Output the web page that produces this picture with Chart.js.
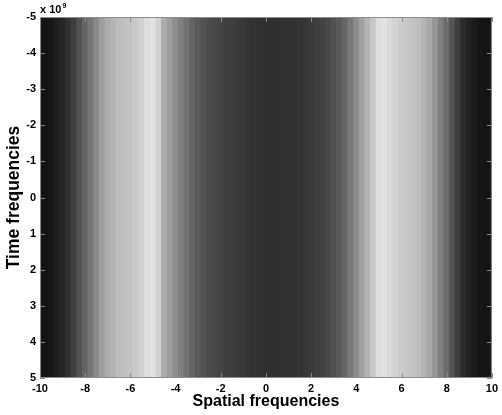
<!DOCTYPE html>
<html>
<head>
<meta charset="utf-8">
<script src="https://cdn.jsdelivr.net/npm/chart.js@4.4.1/dist/chart.umd.min.js"></script>
<style>
html, body { margin: 0; padding: 0; background: #fff; }
#wrap { width: 502px; height: 415px; }
</style>
</head>
<body>
<div id="wrap"><canvas id="specChart"></canvas></div>
<script>
// column centres along the spatial-frequency axis
var spatialFreq = [
  -10, -9.75, -9.5, -9.25, -9, -8.75, -8.5, -8.25, -8, -7.75, -7.5, -7.25, -7, -6.75, -6.5, -6.25,
  -6, -5.75, -5.5, -5.25, -5, -4.75, -4.5, -4.25, -4, -3.75, -3.5, -3.25, -3, -2.75, -2.5, -2.25,
  -2, -1.75, -1.5, -1.25, -1, -0.75, -0.5, -0.25, 0, 0.25, 0.5, 0.75, 1, 1.25, 1.5, 1.75,
  2, 2.25, 2.5, 2.75, 3, 3.25, 3.5, 3.75, 4, 4.25, 4.5, 4.75, 5, 5.25, 5.5, 5.75,
  6, 6.25, 6.5, 6.75, 7, 7.25, 7.5, 7.75, 8, 8.25, 8.5, 8.75, 9, 9.25, 9.5, 9.75, 10
];
// gray level (0-255) of each column
var grayLevel = [
  20, 20, 24, 30, 36, 48, 62, 82, 100, 118, 138, 158, 172, 180, 188, 192,
  196, 202, 210, 222, 226, 210, 172, 158, 142, 128, 114, 100, 90, 82, 76, 72,
  68, 64, 62, 58, 56, 52, 50, 48, 48, 48, 48, 48, 50, 50, 52, 54,
  58, 62, 66, 72, 80, 90, 102, 120, 140, 160, 180, 200, 222, 226, 218, 210,
  204, 200, 196, 190, 180, 168, 150, 128, 108, 84, 62, 44, 34, 26, 22, 20, 20
];
var timeRange = [-5, 5];
var xTicks = [-10, -8, -6, -4, -2, 0, 2, 4, 6, 8, 10];
var yTicks = [-5, -4, -3, -2, -1, 0, 1, 2, 3, 4, 5];

var tickFont = { family: "'Liberation Sans', Arial, sans-serif", size: 11, weight: 'bold' };

// matlab style box with inward ticks and the exponent note
var boxTicks = {
  id: 'boxTicks',
  afterDatasetsDraw: function(chart) {
    var ctx = chart.ctx, a = chart.chartArea;
    var sx = chart.scales.x, sy = chart.scales.y;
    ctx.save();
    ctx.strokeStyle = '#8c8c8c';
    ctx.lineWidth = 1;
    ctx.strokeRect(a.left + 0.5, a.top + 0.5, a.right - a.left - 1, a.bottom - a.top - 1);
    ctx.beginPath();
    xTicks.forEach(function(v) {
      var px = Math.round(sx.getPixelForValue(v)) + 0.5;
      ctx.moveTo(px, a.bottom); ctx.lineTo(px, a.bottom - 5);
      ctx.moveTo(px, a.top); ctx.lineTo(px, a.top + 5);
    });
    yTicks.forEach(function(v) {
      var py = Math.round(sy.getPixelForValue(v)) + 0.5;
      ctx.moveTo(a.left, py); ctx.lineTo(a.left + 5, py);
      ctx.moveTo(a.right, py); ctx.lineTo(a.right - 5, py);
    });
    ctx.stroke();

    ctx.fillStyle = '#000';
    ctx.font = 'bold 11px "Liberation Sans", Arial, sans-serif';
    ctx.textBaseline = 'alphabetic';
    ctx.textAlign = 'left';
    var t = 'x 10';
    ctx.fillText(t, a.left, a.top - 4);
    var w = ctx.measureText(t).width;
    ctx.font = 'bold 7px "Liberation Sans", Arial, sans-serif';
    ctx.fillText('9', a.left + w + 1, a.top - 9);
    ctx.restore();
  }
};

var ctxS = document.getElementById('specChart').getContext('2d');
var specChart = new Chart(ctxS, {
  type: 'bar',
  data: {
    datasets: [{
      data: spatialFreq.map(function(x) { return { x: x, y: timeRange }; }),
      backgroundColor: grayLevel.map(function(g) { return 'rgb(' + g + ',' + g + ',' + g + ')'; }),
      borderWidth: 0,
      barPercentage: 1.15,
      categoryPercentage: 1
    }]
  },
  options: {
    responsive: true,
    maintainAspectRatio: false,
    animation: false,
    layout: { padding: { left: 0, right: 6, top: 17, bottom: 0 } },
    plugins: { legend: { display: false }, tooltip: { enabled: false } },
    scales: {
      x: {
        type: 'linear',
        offset: false,
        min: -10, max: 10,
        grid: { display: false, drawTicks: false, offset: false },
        border: { display: false },
        afterBuildTicks: function(s) { s.ticks = xTicks.map(function(v) { return { value: v }; }); },
        afterFit: function(s) { s.height = 37; },
        ticks: { color: '#000', font: tickFont, padding: 4, maxRotation: 0, autoSkip: false },
        title: { display: true, text: 'Spatial frequencies', color: '#000',
          font: { family: "'Liberation Sans', Arial, sans-serif", size: 16, weight: 'bold' },
          padding: { top: 0, bottom: 4 } }
      },
      y: {
        type: 'linear',
        reverse: true,
        min: -5, max: 5,
        grid: { display: false, drawTicks: false },
        border: { display: false },
        afterBuildTicks: function(s) { s.ticks = yTicks.map(function(v) { return { value: v }; }); },
        afterFit: function(s) { s.width = 40; },
        ticks: { color: '#000', font: tickFont, padding: 4, autoSkip: false },
        title: { display: true, text: 'Time frequencies', color: '#000',
          font: { family: "'Liberation Sans', Arial, sans-serif", size: 17.5, weight: 'bold' },
          padding: { top: 4, bottom: 0 } }
      }
    }
  },
  plugins: [boxTicks]
});
</script>
</body>
</html>
